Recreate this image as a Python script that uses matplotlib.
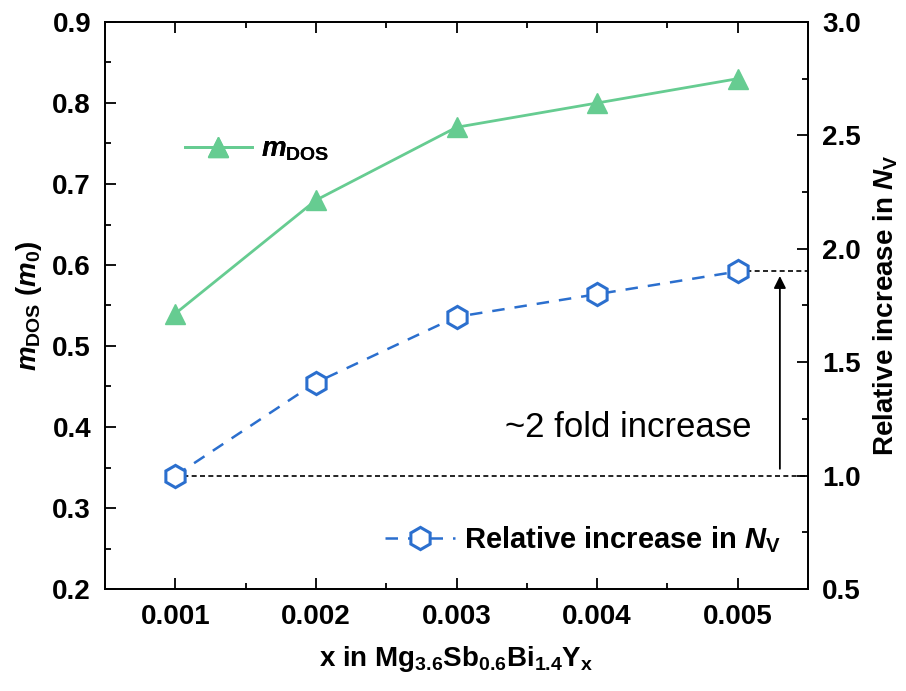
import numpy as np
import matplotlib
matplotlib.use("Agg")
import matplotlib.pyplot as plt
from matplotlib.lines import Line2D
from matplotlib.ticker import MultipleLocator

plt.rcParams['font.family'] = ['Liberation Sans', 'DejaVu Sans']
plt.rcParams['font.weight'] = 'bold'
plt.rcParams['axes.labelweight'] = 'bold'
plt.rcParams['mathtext.fontset'] = 'custom'
plt.rcParams['mathtext.rm'] = 'Liberation Sans:bold'
plt.rcParams['mathtext.bf'] = 'Liberation Sans:bold'
plt.rcParams['mathtext.it'] = 'Liberation Sans:italic:bold'

# data
x_vals = [0.001, 0.002, 0.003, 0.004, 0.005]
m_dos = [0.54, 0.68, 0.77, 0.80, 0.83]
rel_nv = [1.00, 1.41, 1.70, 1.80, 1.90]
x_ticks = [0.001, 0.002, 0.003, 0.004, 0.005]

green = '#66cc91'
blue = '#2b6fce'
fs = 20

fig = plt.figure(figsize=(9.06, 6.91), dpi=100)
fig.subplots_adjust(left=105/906, right=808/906, top=1-22/691, bottom=1-589/691)
ax = fig.add_subplot(111)
ax2 = ax.twinx()

ax.plot(x_vals, m_dos, '-', color=green, lw=2, marker='^', ms=14,
        mfc=green, mec=green, zorder=3)
ax2.plot(x_vals, rel_nv, '--', color=blue, lw=1.8, dashes=(5, 4), marker='h', ms=16,
         mfc='white', mec=blue, mew=2.2, zorder=3)

ax.set_xlim(0.0005, 0.0055)
ax.set_ylim(0.2, 0.9)
ax2.set_ylim(0.5, 3.0)

# reference lines and arrow
ax2.plot([x_vals[0], 0.0055], [rel_nv[0], rel_nv[0]], color='black', lw=1.2,
         dashes=(3, 2), zorder=2)
ax2.plot([x_vals[-1], 0.0055], [rel_nv[-1], rel_nv[-1]], color='black', lw=1.2,
         dashes=(3, 2), zorder=2)
ax2.annotate('', xy=(0.0053, 1.88), xytext=(0.0053, 1.03),
             arrowprops=dict(arrowstyle='-|>', color='black', lw=1.3,
                             mutation_scale=18, shrinkA=0, shrinkB=0))
ax2.text(0.00422, 1.21, '~2 fold increase', fontsize=25, fontweight='normal',
         ha='center', va='center')

ax.set_xticks(x_ticks)
ax.set_xticklabels([f'{v:.3f}' for v in x_ticks])
ax.xaxis.set_minor_locator(MultipleLocator(0.0005))
ax.yaxis.set_major_locator(MultipleLocator(0.1))
ax.yaxis.set_minor_locator(MultipleLocator(0.05))
ax2.yaxis.set_major_locator(MultipleLocator(0.5))
ax2.yaxis.set_minor_locator(MultipleLocator(0.25))
ax.yaxis.set_major_formatter(plt.FormatStrFormatter('%.1f'))
ax2.yaxis.set_major_formatter(plt.FormatStrFormatter('%.1f'))

for a in (ax, ax2):
    for s in a.spines.values():
        s.set_linewidth(1.3)
ax.tick_params(which='both', direction='in', top=True, right=False, width=1.3,
               labelsize=fs, pad=10)
ax.tick_params(axis='x', pad=11)
ax.tick_params(which='major', length=8)
ax.tick_params(which='minor', length=4)
ax2.tick_params(which='both', direction='in', width=1.3, labelsize=fs, pad=10)
ax2.tick_params(which='major', length=8)
ax2.tick_params(which='minor', length=4)

ax.set_xlabel(r'x in Mg$_{3.6}$Sb$_{0.6}$Bi$_{1.4}$Y$_{\mathrm{x}}$', fontsize=fs, labelpad=10)
ax.set_ylabel(r'$m_{\mathrm{DOS}}$ ($m_0$)', fontsize=fs, labelpad=6)
ax2.set_ylabel(r'Relative increase in $N_{\mathrm{V}}$', fontsize=fs, labelpad=8)

h1 = Line2D([], [], color=green, lw=2, marker='^', ms=14, mfc=green, mec=green)
h2 = Line2D([], [], color=blue, lw=1.8, ls='--', dashes=(5, 4), marker='h', ms=16,
            mfc='white', mec=blue, mew=2.2)
leg1 = ax.legend([h1], [r'$m_{\mathrm{DOS}}$'], loc='center left', frameon=False,
                 bbox_to_anchor=(185/906, 1-150/691), bbox_transform=fig.transFigure,
                 fontsize=fs, handlelength=2.4, handletextpad=0.35, borderpad=0,
                 borderaxespad=0)
ax.add_artist(leg1)
ax2.legend([h2], [r'Relative increase in $N_{\mathrm{V}}$'], loc='center left',
           frameon=False, bbox_to_anchor=(385/906, 1-540/691),
           bbox_transform=fig.transFigure, fontsize=21, handlelength=2.4,
           handletextpad=0.3, borderpad=0, borderaxespad=0)

fig.savefig('out.png', dpi=100)
